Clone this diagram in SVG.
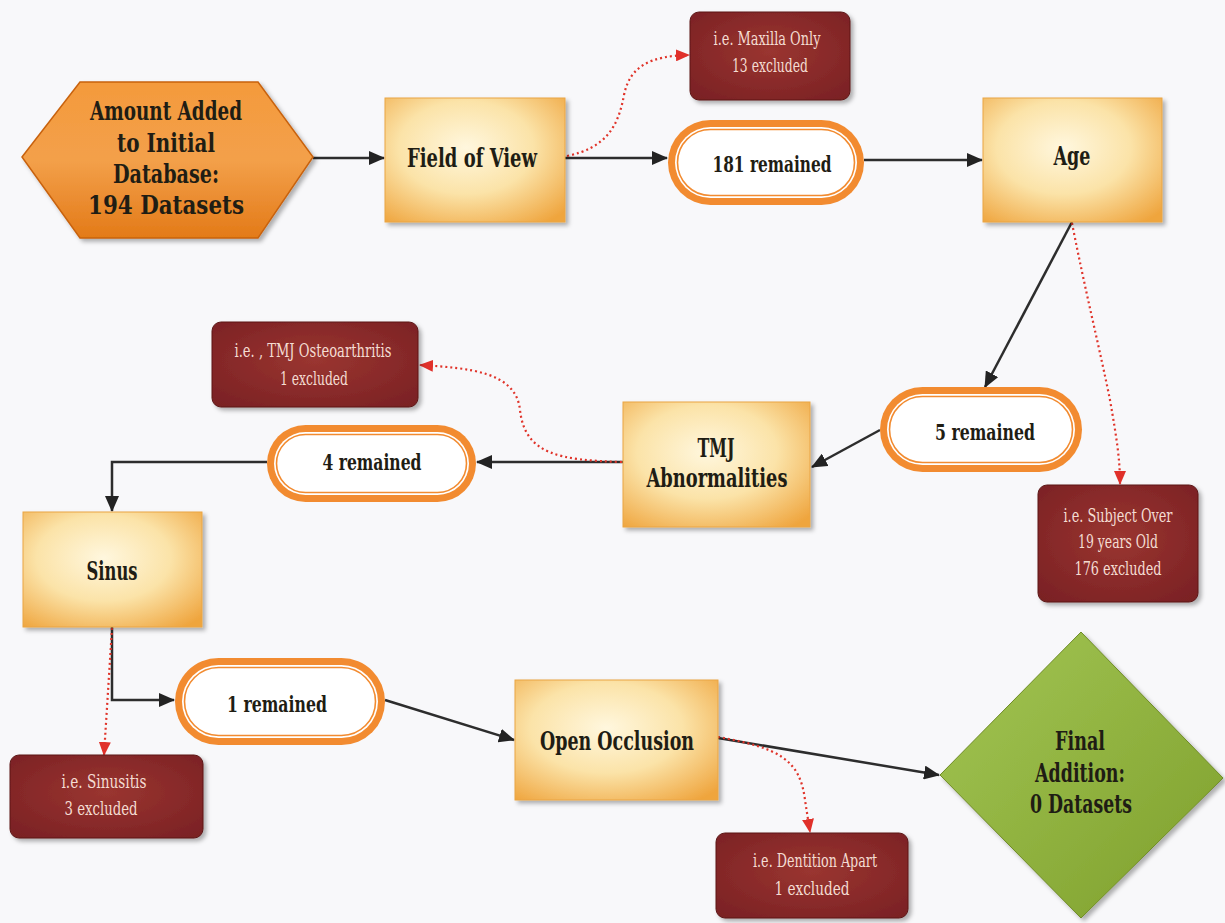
<svg xmlns="http://www.w3.org/2000/svg" width="1225" height="923" viewBox="0 0 1225 923">
<defs>
<style>
.t{font-family:"DejaVu Serif Condensed","DejaVu Serif","Liberation Serif",serif;font-weight:bold;fill:#1f1d14;text-anchor:middle;font-stretch:condensed}
.r{font-family:"DejaVu Serif Condensed","DejaVu Serif","Liberation Serif",serif;fill:#f4dcd2;text-anchor:middle;font-stretch:condensed}
.box{fill:url(#yg);stroke:#eaa545;stroke-width:1;filter:url(#sh)}
.red{fill:url(#rg);stroke:#5c1818;stroke-width:1;filter:url(#sh)}
.ln{fill:none;stroke:#2d2d2d;stroke-width:2.5}
.dt{fill:none;stroke:#e0342a;stroke-width:2.2;stroke-dasharray:2 3}
</style>
<radialGradient id="yg" cx="45%" cy="40%" r="75%">
<stop offset="0" stop-color="#fff7de"/>
<stop offset="0.5" stop-color="#fbe3a8"/>
<stop offset="1" stop-color="#efa53e"/>
</radialGradient>
<radialGradient id="rg" cx="50%" cy="45%" r="70%">
<stop offset="0" stop-color="#9a3530"/>
<stop offset="1" stop-color="#7a2124"/>
</radialGradient>
<linearGradient id="og" x1="0" y1="0" x2="0" y2="1">
<stop offset="0" stop-color="#f49a3c"/>
<stop offset="0.5" stop-color="#f3a04a"/>
<stop offset="1" stop-color="#e37a18"/>
</linearGradient>
<linearGradient id="gg" x1="0" y1="0" x2="1" y2="1">
<stop offset="0" stop-color="#a3c654"/>
<stop offset="1" stop-color="#7e9f2c"/>
</linearGradient>
<filter id="sh" x="-10%" y="-10%" width="125%" height="125%">
<feDropShadow dx="3" dy="3" stdDeviation="2" flood-color="#000" flood-opacity="0.3"/>
</filter>
<marker id="ab" markerWidth="16" markerHeight="14" refX="15" refY="7" orient="auto" markerUnits="userSpaceOnUse">
<path d="M0,0 L16,7 L0,14 Z" fill="#232323"/>
</marker>
<marker id="ar" markerWidth="14" markerHeight="12" refX="13" refY="6" orient="auto" markerUnits="userSpaceOnUse">
<path d="M0,0 L14,6 L0,12 Z" fill="#e0302a"/>
</marker>
</defs>
<rect width="1225" height="923" fill="#f8f8fa"/>

<g id="connectors">
<line class="ln" x1="313" y1="158" x2="384" y2="158" marker-end="url(#ab)"/>
<line class="ln" x1="565" y1="158" x2="667" y2="158" marker-end="url(#ab)"/>
<line class="ln" x1="864" y1="160" x2="982" y2="160" marker-end="url(#ab)"/>
<line class="ln" x1="1072" y1="222" x2="985" y2="387" marker-end="url(#ab)"/>
<line class="ln" x1="880" y1="430" x2="812" y2="467" marker-end="url(#ab)"/>
<line class="ln" x1="623" y1="462" x2="477" y2="462" marker-end="url(#ab)"/>
<polyline class="ln" points="267,462 112,462 112,511" marker-end="url(#ab)"/>
<polyline class="ln" points="112,627 112,700 174,700" marker-end="url(#ab)"/>
<line class="ln" x1="385" y1="700" x2="514" y2="740" marker-end="url(#ab)"/>
<line class="ln" x1="718" y1="738" x2="939" y2="775" marker-end="url(#ab)"/>
<path class="dt" d="M567,156 C605,148 618,128 624,95 C630,66 650,56 689,55" marker-end="url(#ar)"/>
<path class="dt" d="M1072,223 C1085,290 1100,350 1110,400 C1117,440 1120,460 1120,484" marker-end="url(#ar)"/>
<path class="dt" d="M622,462 C560,460 525,455 520,410 C516,372 470,368 420,365" marker-end="url(#ar)"/>
<path class="dt" d="M112,628 L104,755" marker-end="url(#ar)"/>
<path class="dt" d="M718,737 C780,748 800,760 805,800 L810,832" marker-end="url(#ar)"/>
</g>

<g id="start">
<polygon points="22,157 80,82 258,82 313,157 258,238 80,238" fill="url(#og)" stroke="#c8620e" stroke-width="1.5" filter="url(#sh)"/>
<text class="t" font-size="26" x="166" y="120" textLength="152" lengthAdjust="spacingAndGlyphs">Amount Added</text>
<text class="t" font-size="26" x="166" y="152" textLength="98" lengthAdjust="spacingAndGlyphs">to Initial</text>
<text class="t" font-size="26" x="166" y="183" textLength="106" lengthAdjust="spacingAndGlyphs">Database:</text>
<text class="t" font-size="26" x="166" y="214" textLength="156" lengthAdjust="spacingAndGlyphs">194 Datasets</text>
</g>

<g id="field-of-view">
<rect class="box" x="385" y="98" width="180" height="124"/>
<text class="t" font-size="26" x="472" y="167" textLength="130" lengthAdjust="spacingAndGlyphs">Field of View</text>
</g>

<g id="maxilla">
<rect class="red" x="690" y="12" width="160" height="88" rx="9"/>
<text class="r" font-size="19" x="767" y="45" textLength="107" lengthAdjust="spacingAndGlyphs">i.e. Maxilla Only</text>
<text class="r" font-size="19" x="770" y="72" textLength="76" lengthAdjust="spacingAndGlyphs">13 excluded</text>
</g>

<g id="remained-181">
<rect x="668" y="120" width="196" height="85" rx="42.5" fill="#f28b30"/>
<rect x="675" y="127" width="182" height="71" rx="35.5" fill="#fff"/>
<rect x="677.5" y="129.5" width="177" height="66" rx="33" fill="#fff" stroke="#f28b30" stroke-width="1.6"/>
<text class="t" font-size="22" x="772" y="172" textLength="119" lengthAdjust="spacingAndGlyphs">181 remained</text>
</g>

<g id="age">
<rect class="box" x="983" y="98" width="179" height="124"/>
<text class="t" font-size="26" x="1072" y="165" textLength="37" lengthAdjust="spacingAndGlyphs">Age</text>
</g>

<g id="subject-over">
<rect class="red" x="1038" y="485" width="160" height="117" rx="9"/>
<text class="r" font-size="19" x="1118" y="522" textLength="109" lengthAdjust="spacingAndGlyphs">i.e. Subject Over</text>
<text class="r" font-size="19" x="1118" y="548" textLength="80" lengthAdjust="spacingAndGlyphs">19 years Old</text>
<text class="r" font-size="19" x="1118" y="575" textLength="87" lengthAdjust="spacingAndGlyphs">176 excluded</text>
</g>

<g id="remained-5">
<rect x="880" y="387" width="202" height="85" rx="42.5" fill="#f28b30"/>
<rect x="887" y="394" width="188" height="71" rx="35.5" fill="#fff"/>
<rect x="889.5" y="396.5" width="183" height="66" rx="33" fill="#fff" stroke="#f28b30" stroke-width="1.6"/>
<text class="t" font-size="22" x="985" y="440" textLength="100" lengthAdjust="spacingAndGlyphs">5 remained</text>
</g>

<g id="tmj">
<rect class="box" x="623" y="402" width="187" height="125"/>
<text class="t" font-size="26" x="716" y="457" textLength="37" lengthAdjust="spacingAndGlyphs">TMJ</text>
<text class="t" font-size="26" x="717" y="487" textLength="141" lengthAdjust="spacingAndGlyphs">Abnormalities</text>
</g>

<g id="tmj-osteo">
<rect class="red" x="212" y="322" width="206" height="85" rx="9"/>
<text class="r" font-size="19" x="313" y="357" textLength="157" lengthAdjust="spacingAndGlyphs">i.e. , TMJ Osteoarthritis</text>
<text class="r" font-size="19" x="314" y="385" textLength="68" lengthAdjust="spacingAndGlyphs">1 excluded</text>
</g>

<g id="remained-4">
<rect x="267" y="425" width="209" height="77" rx="38.5" fill="#f28b30"/>
<rect x="274" y="432" width="195" height="63" rx="31.5" fill="#fff"/>
<rect x="276.5" y="434.5" width="190" height="58" rx="29" fill="#fff" stroke="#f28b30" stroke-width="1.6"/>
<text class="t" font-size="22" x="372" y="470" textLength="99" lengthAdjust="spacingAndGlyphs">4 remained</text>
</g>

<g id="sinus">
<rect class="box" x="23" y="512" width="179" height="115"/>
<text class="t" font-size="26" x="112" y="580" textLength="51" lengthAdjust="spacingAndGlyphs">Sinus</text>
</g>

<g id="sinusitis">
<rect class="red" x="10" y="755" width="193" height="83" rx="9"/>
<text class="r" font-size="19" x="104" y="788" textLength="85" lengthAdjust="spacingAndGlyphs">i.e. Sinusitis</text>
<text class="r" font-size="19" x="101" y="815" textLength="73" lengthAdjust="spacingAndGlyphs">3 excluded</text>
</g>

<g id="remained-1">
<rect x="175" y="658" width="210" height="87" rx="43.5" fill="#f28b30"/>
<rect x="182" y="665" width="196" height="73" rx="36.5" fill="#fff"/>
<rect x="184.5" y="667.5" width="191" height="68" rx="34" fill="#fff" stroke="#f28b30" stroke-width="1.6"/>
<text class="t" font-size="22" x="277" y="712" textLength="100" lengthAdjust="spacingAndGlyphs">1 remained</text>
</g>

<g id="open-occlusion">
<rect class="box" x="515" y="680" width="203" height="120"/>
<text class="t" font-size="26" x="617" y="750" textLength="154" lengthAdjust="spacingAndGlyphs">Open Occlusion</text>
</g>

<g id="dentition">
<rect class="red" x="716" y="833" width="192" height="85" rx="9"/>
<text class="r" font-size="19" x="815" y="867" textLength="124" lengthAdjust="spacingAndGlyphs">i.e. Dentition Apart</text>
<text class="r" font-size="19" x="812" y="895" textLength="75" lengthAdjust="spacingAndGlyphs">1 excluded</text>
</g>

<g id="final">
<polygon points="940,775 1081,632 1223,778 1081,918" fill="url(#gg)" stroke="#6f8c26" stroke-width="1" filter="url(#sh)"/>
<text class="t" font-size="26" x="1080" y="750" textLength="50" lengthAdjust="spacingAndGlyphs">Final</text>
<text class="t" font-size="26" x="1080" y="782" textLength="90" lengthAdjust="spacingAndGlyphs">Addition:</text>
<text class="t" font-size="26" x="1081" y="813" textLength="102" lengthAdjust="spacingAndGlyphs">0 Datasets</text>
</g>
</svg>
